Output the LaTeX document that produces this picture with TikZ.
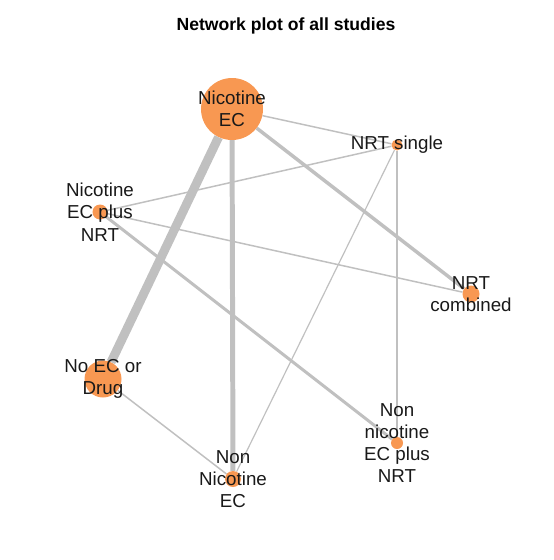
\documentclass[tikz,border=0pt]{standalone}
\usepackage{fontspec}
\setmainfont{Liberation Sans}
\usetikzlibrary{backgrounds}

\definecolor{nodeorange}{RGB}{248,152,82}
\definecolor{edgegray}{RGB}{192,192,192}

\begin{document}
\begin{tikzpicture}[
    x=0.03cm, y=-0.03cm,
    vtx/.style={circle, fill=nodeorange, draw=none, inner sep=0pt, minimum size=#1*0.03cm},
    vtx/.default=12,
    lab/.style={align=center, font=\fontsize{16}{19}\selectfont, text=black!90, inner sep=0pt},
    link/.style={draw=edgegray, line width=#1*0.85pt},
    link/.default=1.5
]
\useasboundingbox (0,0) rectangle (553,560);

% --- Title ---
\node[font=\fontsize{15}{17}\selectfont\bfseries] (title) at (286,26) {Network plot of all studies};

% --- Treatments ---
\node[vtx=62] (nicEC)      at (232,109) {};
\node[vtx=11] (nrtSingle)  at (397,145) {};
\node[vtx=15] (nicECplus)  at (100,212) {};
\node[vtx=17] (nrtComb)    at (471,294) {};
\node[vtx=37] (noEC)       at (103,379) {};
\node[vtx=16] (nonNicEC)   at (233,479) {};
\node[vtx=12] (nonNicPlus) at (397,443) {};

% --- Comparisons ---
\begin{scope}[on background layer]
\draw[link=9]   (nicEC) -- (noEC);
\draw[link=5]   (nicEC) -- (nonNicEC);
\draw[link=3.5] (nicEC) -- (nrtComb);
\draw[link]     (nicEC) -- (nrtSingle);
\draw[link]     (nrtSingle) -- (nicECplus);
\draw[link=1.2] (nrtSingle) -- (nonNicEC);
\draw[link]     (nrtSingle) -- (nonNicPlus);
\draw[link]     (nicECplus) -- (nrtComb);
\draw[link=3]   (nicECplus) -- (nonNicPlus);
\draw[link]     (noEC) -- (nonNicEC);
\end{scope}

% --- Labels ---
\node[lab] at (nicEC)      {Nicotine\\EC};
\node[lab] at (nrtSingle)  {NRT single};
\node[lab] at (nicECplus)  {Nicotine\\EC plus\\NRT};
\node[lab] at (nrtComb)    {NRT\\combined};
\node[lab] at (noEC)       {No EC or\\Drug};
\node[lab] at (nonNicEC)   {Non\\Nicotine\\EC};
\node[lab] at (nonNicPlus) {Non\\nicotine\\EC plus\\NRT};

\end{tikzpicture}
\end{document}
